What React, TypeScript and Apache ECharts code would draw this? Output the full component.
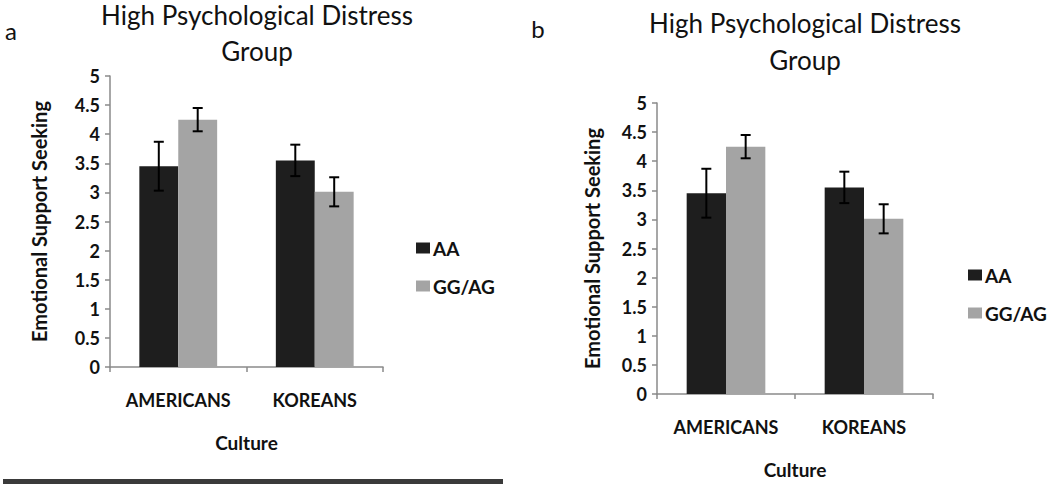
import React, { useEffect, useRef } from "react";
import * as echarts from "echarts";

const categories = ["AMERICANS", "KOREANS"];
const seriesNames = ["AA", "GG/AG"];
const aaValues = [3.45, 3.55];
const aaErrors = [0.42, 0.27];
const ggValues = [4.25, 3.01];
const ggErrors = [0.2, 0.25];
const yTicks = { min: 0, max: 5, interval: 0.5 };
const titleText = "High Psychological Distress\nGroup";
const yName = "Emotional Support Seeking";
const xName = "Culture";
const panelLetters = ["a", "b"];

const DARK = "#1e1e1e";
const LIGHT = "#a4a4a4";
const AXIS = "#8a8a8a";
const FONT = "Lato";
const CAT_GAP = 0.43;

export default function App() {
  const ref = useRef<HTMLDivElement>(null);
  useEffect(() => {
    document.body.style.margin = "0";
    const chart = echarts.init(ref.current!, null, { renderer: "svg" });

    const grids = [
      { left: 110, top: 76, width: 273, height: 291 },
      { left: 657, top: 103, width: 276, height: 291 },
    ];
    const yNameGaps = [61, 55];

    const xAxes = grids.map((_, i) => ({
      type: "category",
      gridIndex: i,
      data: categories,
      axisLine: { lineStyle: { color: AXIS, width: 1.5 } },
      axisTick: { show: true, length: 5, lineStyle: { color: AXIS, width: 1.5 } },
      axisLabel: { margin: 24, fontSize: 18, fontWeight: "bold", color: "#111", fontFamily: FONT },
      name: xName,
      nameLocation: "middle",
      nameGap: 66,
      nameTextStyle: { fontSize: 19, fontWeight: "bold", color: "#111", fontFamily: FONT },
    }));

    const yAxes = grids.map((_, i) => ({
      type: "value",
      gridIndex: i,
      min: yTicks.min,
      max: yTicks.max,
      interval: yTicks.interval,
      splitLine: { show: false },
      axisLine: { show: true, lineStyle: { color: AXIS, width: 1.5 } },
      axisTick: { show: true, length: 5, lineStyle: { color: AXIS, width: 1.5 } },
      axisLabel: { margin: 10, fontSize: 18, fontWeight: "bold", color: "#111", fontFamily: FONT },
      name: yName,
      nameLocation: "middle",
      nameGap: yNameGaps[i],
      nameTextStyle: { fontSize: 20, fontWeight: "bold", color: "#111", fontFamily: FONT },
    }));

    const makeErr = (vals: number[], errs: number[], sign: number, gi: number) => ({
      type: "custom",
      name: "err" + sign + gi,
      xAxisIndex: gi,
      yAxisIndex: gi,
      z: 10,
      data: vals.map((v, k) => [k, v, errs[k]]),
      encode: { x: 0, y: 1 },
      renderItem: (params: any, api: any) => {
        const idx = api.value(0);
        const v = api.value(1);
        const e = api.value(2);
        const band = api.size([1, 0])[0];
        const bw = (band * (1 - CAT_GAP)) / 2;
        const top = api.coord([idx, v + e]);
        const bot = api.coord([idx, v - e]);
        const x = top[0] + (sign * bw) / 2;
        const cap = 5;
        const st = { stroke: "#000", lineWidth: 2 };
        return {
          type: "group",
          children: [
            { type: "line", shape: { x1: x, y1: top[1], x2: x, y2: bot[1] }, style: st },
            { type: "line", shape: { x1: x - cap, y1: top[1], x2: x + cap, y2: top[1] }, style: st },
            { type: "line", shape: { x1: x - cap, y1: bot[1], x2: x + cap, y2: bot[1] }, style: st },
          ],
        };
      },
    });

    const series: any[] = [];
    grids.forEach((_, gi) => {
      series.push({
        type: "bar",
        name: seriesNames[0],
        xAxisIndex: gi,
        yAxisIndex: gi,
        data: aaValues,
        barGap: "0%",
        barCategoryGap: CAT_GAP * 100 + "%",
        itemStyle: { color: DARK },
      });
      series.push({
        type: "bar",
        name: seriesNames[1],
        xAxisIndex: gi,
        yAxisIndex: gi,
        data: ggValues,
        barGap: "0%",
        barCategoryGap: CAT_GAP * 100 + "%",
        itemStyle: { color: LIGHT },
      });
    });
    grids.forEach((_, gi) => {
      series.push(makeErr(aaValues, aaErrors, -1, gi));
      series.push(makeErr(ggValues, ggErrors, 1, gi));
    });

    const legendBase = {
      data: seriesNames,
      orient: "vertical",
      icon: "rect",
      itemWidth: 14,
      itemHeight: 11,
      itemGap: 18,
      padding: 0,
      selectedMode: false,
      textStyle: { fontSize: 19, fontWeight: "bold", color: "#111", fontFamily: FONT, lineHeight: 20, padding: [0, 0, 0, -2] },
    };

    chart.setOption({
      animation: false,
      backgroundColor: "#fff",
      grid: grids,
      xAxis: xAxes,
      yAxis: yAxes,
      legend: [
        { ...legendBase, left: 416, top: 238 },
        { ...legendBase, left: 968, top: 265 },
      ],
      series,
      graphic: [
        {
          type: "text",
          x: 257,
          y: -3,
          style: { text: titleText, textAlign: "center", textVerticalAlign: "top", font: `normal 26px ${FONT}`, lineHeight: 36, fill: "#111" },
        },
        {
          type: "text",
          x: 805,
          y: 4,
          style: { text: titleText, textAlign: "center", textVerticalAlign: "top", font: `normal 26px ${FONT}`, lineHeight: 37, fill: "#111" },
        },
        {
          type: "text",
          x: 11,
          y: 30,
          style: { text: panelLetters[0], textAlign: "center", textVerticalAlign: "middle", font: `normal 24px ${FONT}`, fill: "#111" },
        },
        {
          type: "text",
          x: 538,
          y: 28,
          style: { text: panelLetters[1], textAlign: "center", textVerticalAlign: "middle", font: `normal 24px ${FONT}`, fill: "#111" },
        },
        {
          type: "rect",
          shape: { x: 3, y: 479, width: 500, height: 5 },
          style: { fill: "#3a3a3a" },
        },
      ],
    });
    return () => chart.dispose();
  }, []);
  return <div ref={ref} style={{ width: 1050, height: 484 }} />;
}
